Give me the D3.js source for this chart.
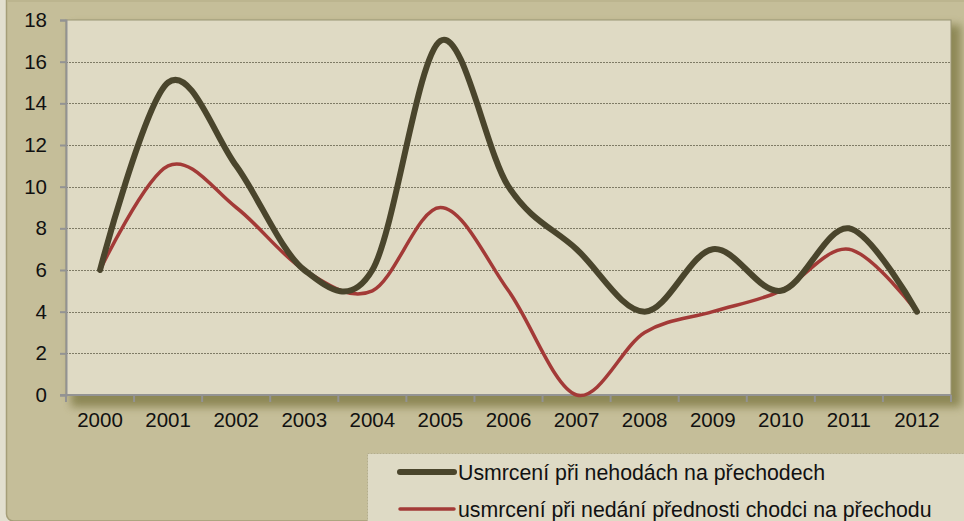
<!DOCTYPE html>
<html>
<head>
<meta charset="utf-8">
<script src="https://cdn.jsdelivr.net/npm/d3@7"></script>
<style>
  html, body { margin: 0; padding: 0; background: #e2dfcf; }
  svg { display: block; }
</style>
</head>
<body>
<div id="chart"></div>
<script>
// Chart data
const years = ['2000', '2001', '2002', '2003', '2004', '2005', '2006', '2007', '2008', '2009', '2010', '2011', '2012'];
const deathsAtCrossings = [6, 15, 11, 6, 6, 17, 10, 7, 4, 7, 5, 8, 4];
const deathsNoRightOfWay = [6, 11, 9, 6, 5, 9, 5, 0, 3, 4, 5, 7, 4];
const yTicks = [0, 2, 4, 6, 8, 10, 12, 14, 16, 18];
const seriesNames = [
  'Usmrcení při nehodách na přechodech',
  'usmrcení při nedání přednosti chodci na přechodu'
];

const width = 964, height = 521;
const margin = { top: 20, right: 13, bottom: 126, left: 66 };
const plotW = width - margin.left - margin.right;
const plotH = height - margin.top - margin.bottom;

const svg = d3.select('#chart').append('svg')
  .attr('width', width)
  .attr('height', height);

const defs = svg.append('defs');
const shadow = defs.append('filter').attr('id', 'shadow')
  .attr('x', '-5%').attr('y', '-5%').attr('width', '115%').attr('height', '120%');
shadow.append('feGaussianBlur').attr('stdDeviation', 4);

// Outer panel
svg.append('rect')
  .attr('x', 6.5).attr('y', -10)
  .attr('width', width + 20).attr('height', 531)
  .attr('rx', 7)
  .attr('fill', '#c5be99')
  .attr('stroke', '#a59e78')
  .attr('stroke-width', 1.5);

svg.append('rect')
  .attr('x', 7).attr('y', 0).attr('width', width).attr('height', 2)
  .attr('fill', '#bcb58f');

// Plot area shadow + background
svg.append('rect')
  .attr('x', margin.left + 5).attr('y', margin.top + 5)
  .attr('width', plotW + 5).attr('height', plotH + 7)
  .attr('fill', '#87824f')
  .attr('opacity', 0.9)
  .attr('filter', 'url(#shadow)');

const g = svg.append('g')
  .attr('transform', `translate(${margin.left},${margin.top})`);

g.append('rect')
  .attr('width', plotW).attr('height', plotH)
  .attr('fill', '#dfdac4')
  .attr('stroke', '#9a9574')
  .attr('stroke-width', 1);

// Scales
const x = d3.scaleBand().domain(years).range([0, plotW]);
const y = d3.scaleLinear().domain([0, 18]).range([plotH, 0]);

// Gridlines
g.append('g')
  .selectAll('line')
  .data(yTicks.filter(d => d > 0 && d < 18))
  .join('line')
  .attr('x1', 0).attr('x2', plotW)
  .attr('y1', d => Math.round(y(d)) + 0.5)
  .attr('y2', d => Math.round(y(d)) + 0.5)
  .attr('stroke', '#7f7b66')
  .attr('stroke-width', 1)
  .attr('stroke-dasharray', '2,1');

// Y axis
const yAxis = d3.axisLeft(y)
  .tickValues(yTicks)
  .tickSize(6)
  .tickPadding(13);

g.append('g')
  .call(yAxis)
  .call(a => a.select('.domain').attr('stroke', '#939393').attr('stroke-width', 2))
  .call(a => a.selectAll('.tick line').attr('stroke', '#939393').attr('stroke-width', 2))
  .call(a => a.selectAll('text')
    .attr('fill', '#111')
    .attr('font-family', '"Liberation Sans", Arial, sans-serif')
    .attr('font-size', '20.5px'));

// X axis with ticks between categories
const xAxisG = g.append('g')
  .attr('transform', `translate(0,${plotH})`);

xAxisG.append('line')
  .attr('x1', -6).attr('x2', plotW)
  .attr('stroke', '#939393').attr('stroke-width', 2);

xAxisG.selectAll('.xtick')
  .data(d3.range(years.length + 1))
  .join('line')
  .attr('class', 'xtick')
  .attr('x1', i => i * x.step()).attr('x2', i => i * x.step())
  .attr('y1', 0).attr('y2', 7)
  .attr('stroke', '#939393').attr('stroke-width', 2);

xAxisG.selectAll('.xlabel')
  .data(years)
  .join('text')
  .attr('class', 'xlabel')
  .attr('x', d => x(d) + x.bandwidth() / 2)
  .attr('y', 32)
  .attr('text-anchor', 'middle')
  .attr('fill', '#111')
  .attr('font-family', '"Liberation Sans", Arial, sans-serif')
  .attr('font-size', '20.5px')
  .text(d => d);

// Lines
const line = d3.line()
  .x((d, i) => x(years[i]) + x.bandwidth() / 2)
  .y(d => y(d))
  .curve(d3.curveCardinal.tension(0));

g.append('path')
  .datum(deathsNoRightOfWay)
  .attr('d', line)
  .attr('fill', 'none')
  .attr('stroke', '#a33a37')
  .attr('stroke-width', 3.5)
  .attr('stroke-linecap', 'round')
  .attr('stroke-linejoin', 'round');

g.append('path')
  .datum(deathsAtCrossings)
  .attr('d', line)
  .attr('fill', 'none')
  .attr('stroke', '#4a452c')
  .attr('stroke-width', 6)
  .attr('stroke-linecap', 'round')
  .attr('stroke-linejoin', 'round');

// Legend
const legend = svg.append('g').attr('transform', 'translate(367,453)');

legend.append('rect')
  .attr('x', 0.5).attr('y', 0.5)
  .attr('width', 620).attr('height', 100)
  .attr('fill', '#dedac5')
  .attr('stroke', '#b4ae8c')
  .attr('stroke-dasharray', '2,1');

const legendItems = [
  { name: seriesNames[0], color: '#4a452c', w: 6 },
  { name: seriesNames[1], color: '#a33a37', w: 3.5 }
];

const item = legend.selectAll('.item')
  .data(legendItems)
  .join('g')
  .attr('class', 'item')
  .attr('transform', (d, i) => `translate(0,${19 + i * 37})`);

item.append('line')
  .attr('x1', 33).attr('x2', 87)
  .attr('stroke', d => d.color)
  .attr('stroke-width', d => d.w)
  .attr('stroke-linecap', 'round');

item.append('text')
  .attr('x', 91)
  .attr('y', 7.5)
  .attr('fill', '#111')
  .attr('font-family', '"Liberation Sans", Arial, sans-serif')
  .attr('font-size', '21.3px')
  .text(d => d.name);
</script>
</body>
</html>
